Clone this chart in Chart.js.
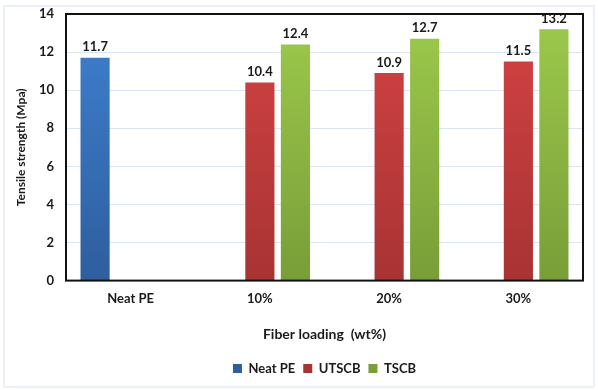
<!DOCTYPE html>
<html>
<head>
<meta charset="utf-8">
<script src="https://cdn.jsdelivr.net/npm/chart.js@4/dist/chart.umd.min.js"></script>
<style>
  html, body { margin: 0; padding: 0; background: #ffffff; }
  #wrap { width: 598px; height: 390px; position: relative; }
</style>
</head>
<body>
<div id="wrap"><canvas id="chart" width="598" height="390"></canvas></div>
<script>
// Tensile strength by fiber loading
const categories = ['Neat PE', '10%', '20%', '30%'];
const neatPE = [11.7, null, null, null];
const utscb  = [null, 10.4, 10.9, 11.5];
const tscb   = [null, 12.4, 12.7, 13.2];
const yTicks = [0, 2, 4, 6, 8, 10, 12, 14];

const FONT = 'Lato, "Open Sans", "Liberation Sans", sans-serif';

// vertical shading for each series: lighter at the top, darker at the base
function shade(top, bottom) {
  return (ctx) => {
    const area = ctx.chart.chartArea;
    if (!area) return top;
    const g = ctx.chart.ctx.createLinearGradient(0, area.top, 0, area.bottom);
    g.addColorStop(0, top);
    g.addColorStop(1, bottom);
    return g;
  };
}

// value labels above each bar
const valueLabels = {
  id: 'valueLabels',
  afterDatasetsDraw(chart) {
    const c = chart.ctx;
    c.save();
    c.font = 'bold 13px ' + FONT;
    c.fillStyle = '#1a1a1a';
    c.textAlign = 'center';
    c.textBaseline = 'bottom';
    chart.data.datasets.forEach((ds, i) => {
      const meta = chart.getDatasetMeta(i);
      meta.data.forEach((bar, j) => {
        const v = ds.data[j];
        if (v == null) return;
        c.fillText(v.toFixed(1), bar.x, bar.y - 4);
      });
    });
    c.restore();
  }
};

// black box round the plot area and a faint outer frame
const frame = {
  id: 'frame',
  beforeDraw(chart) {
    const c = chart.ctx;
    c.save();
    c.strokeStyle = '#e4ecf6';
    c.lineWidth = 1.5;
    c.strokeRect(4, 6, 590, 381);
    c.restore();
  },
  afterDatasetsDraw(chart) {
    const a = chart.chartArea;
    const c = chart.ctx;
    c.save();
    c.strokeStyle = '#111111';
    c.lineWidth = 2;
    c.strokeRect(a.left, a.top, a.right - a.left, a.bottom - a.top);
    c.restore();
  }
};

new Chart(document.getElementById('chart'), {
  type: 'bar',
  data: {
    labels: categories,
    datasets: [
      { label: 'Neat PE', data: neatPE, backgroundColor: shade('#3f80d0', '#2e5e9e') },
      { label: 'UTSCB',   data: utscb,  backgroundColor: shade('#d44343', '#a83333') },
      { label: 'TSCB',    data: tscb,   backgroundColor: shade('#9dca4c', '#789e38') }
    ]
  },
  options: {
    responsive: false,
    animation: false,
    devicePixelRatio: 1,
    datasets: { bar: { categoryPercentage: 0.825, barPercentage: 0.82 } },
    layout: { padding: { left: 14, right: 15, top: 14, bottom: 5 } },
    scales: {
      x: {
        grid: { display: false, drawTicks: false },
        border: { display: false },
        ticks: { color: '#1a1a1a', font: { family: FONT, size: 13, weight: 'bold' }, padding: 10 },
        title: {
          display: true, text: 'Fiber loading  (wt%)', color: '#1a1a1a',
          font: { family: FONT, size: 14, weight: 'bold' }, padding: { top: 10, bottom: 11 }
        }
      },
      y: {
        min: 0, max: 14,
        afterBuildTicks(scale) { scale.ticks = yTicks.map(v => ({ value: v })); },
        afterFit(scale) {
          scale.width = 52;
          // only half a label of overhang above and below the plot
          scale.paddingTop = 8;
          scale.paddingBottom = 8;
        },
        grid: { color: '#dae5f3', lineWidth: 1, drawTicks: false },
        border: { display: false },
        ticks: { color: '#1a1a1a', font: { family: FONT, size: 13, weight: 'bold' }, padding: 12 },
        title: {
          display: true, text: 'Tensile strength (Mpa)', color: '#1a1a1a',
          font: { family: FONT, size: 12, weight: 'bold' }, padding: { top: 0, bottom: 4 }
        }
      }
    },
    plugins: {
      legend: {
        position: 'bottom',
        fullSize: false,
        labels: {
          color: '#1a1a1a', boxWidth: 9, boxHeight: 9, padding: 8,
          font: { family: FONT, size: 13, weight: 'bold' }
        }
      },
      tooltip: { enabled: false }
    }
  },
  plugins: [valueLabels, frame]
});
</script>
</body>
</html>
